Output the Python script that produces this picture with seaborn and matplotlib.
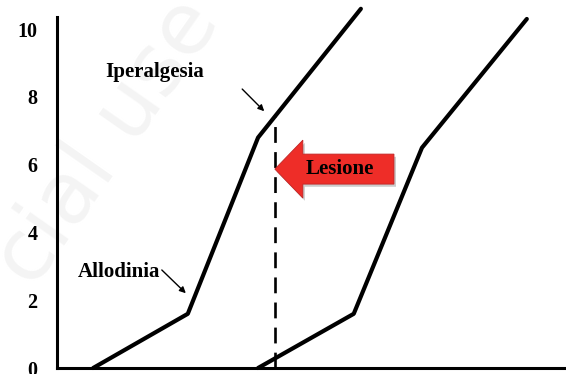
import matplotlib
matplotlib.use("Agg")
import matplotlib.pyplot as plt
import seaborn as sns
from matplotlib.patches import FancyArrow

# data (x is an arbitrary 0-10 scale, no ticks shown)
curve1_x = [0.71, 2.57, 3.95, 5.97]
curve1_y = [0.0, 1.6, 6.8, 10.6]
curve2_x = [3.95, 5.83, 7.17, 9.23]
curve2_y = [0.0, 1.6, 6.5, 10.3]
lesione_x = 4.28
lesione_top = 7.42
y_ticks = [0, 2, 4, 6, 8, 10]

sns.set_style("white")
plt.rcParams["font.family"] = ["Liberation Serif", "DejaVu Serif"]
plt.rcParams["font.weight"] = "bold"
plt.rcParams["text.color"] = "black"
plt.rcParams["ytick.color"] = "black"

fig = plt.figure(figsize=(5.66, 3.74), dpi=100)
ax = fig.add_axes([0.1007, 0.016, 0.8993, 0.965])

# faint watermark behind everything
fig.text(0.19, 0.62, "cial use", fontsize=62, color="#f4f4f4", rotation=55,
         ha="center", va="center", family="DejaVu Sans", fontweight="normal",
         zorder=-5)

sns.lineplot(x=curve1_x, y=curve1_y, ax=ax, color="black", lw=3.0,
             estimator=None, sort=False, clip_on=False)
sns.lineplot(x=curve2_x, y=curve2_y, ax=ax, color="black", lw=3.0,
             estimator=None, sort=False, clip_on=False)

# injury line
ax.plot([lesione_x, lesione_x], [0, lesione_top], color="black", lw=1.9,
        dashes=(6, 3.5))

# red block arrow "Lesione" with a slight shadow
arr_y = 5.87
ax.add_patch(FancyArrow(6.66, arr_y - 0.08, lesione_x - 6.62, 0, width=0.885,
                        head_width=1.71, head_length=0.55,
                        length_includes_head=True, facecolor="#9a9a9a",
                        edgecolor="none", alpha=0.5, zorder=2))
ax.add_patch(FancyArrow(6.62, arr_y, lesione_x - 6.62, 0, width=0.885,
                        head_width=1.71, head_length=0.55,
                        length_includes_head=True, facecolor="#ee2d28",
                        edgecolor="#c02525", lw=0.6, zorder=3))
ax.text(5.56, arr_y, "Lesione", fontsize=15, fontweight="bold",
        ha="center", va="center", zorder=4)

# labels with small arrows
ax.text(0.94, 8.73, "Iperalgesia", fontsize=15, fontweight="bold",
        ha="left", va="center")
ax.annotate("", xy=(4.11, 7.52), xytext=(3.6, 8.29),
            arrowprops=dict(arrowstyle="-|>", color="black", lw=1.0,
                            mutation_scale=9))
ax.text(0.41, 2.83, "Allodinia", fontsize=15, fontweight="bold",
        ha="left", va="center")
ax.annotate("", xy=(2.57, 2.15), xytext=(2.02, 2.95),
            arrowprops=dict(arrowstyle="-|>", color="black", lw=1.0,
                            mutation_scale=9))

ax.set_xlim(0, 10)
ax.set_ylim(0, 10.65)
ax.set_xticks([])
ax.set_yticks(y_ticks)
ax.set_yticklabels([str(t) for t in y_ticks], fontsize=14.5, fontweight="bold")
ax.tick_params(axis="y", length=0, pad=14, labelcolor="black")

for s in ["top", "right"]:
    ax.spines[s].set_visible(False)
ax.spines["left"].set_linewidth(2.2)
ax.spines["bottom"].set_linewidth(2.2)
ax.spines["left"].set_color("black")
ax.spines["bottom"].set_color("black")
ax.spines["left"].set_bounds(0, 10.35)
ax.patch.set_alpha(0)

fig.savefig("out.png", dpi=100)
